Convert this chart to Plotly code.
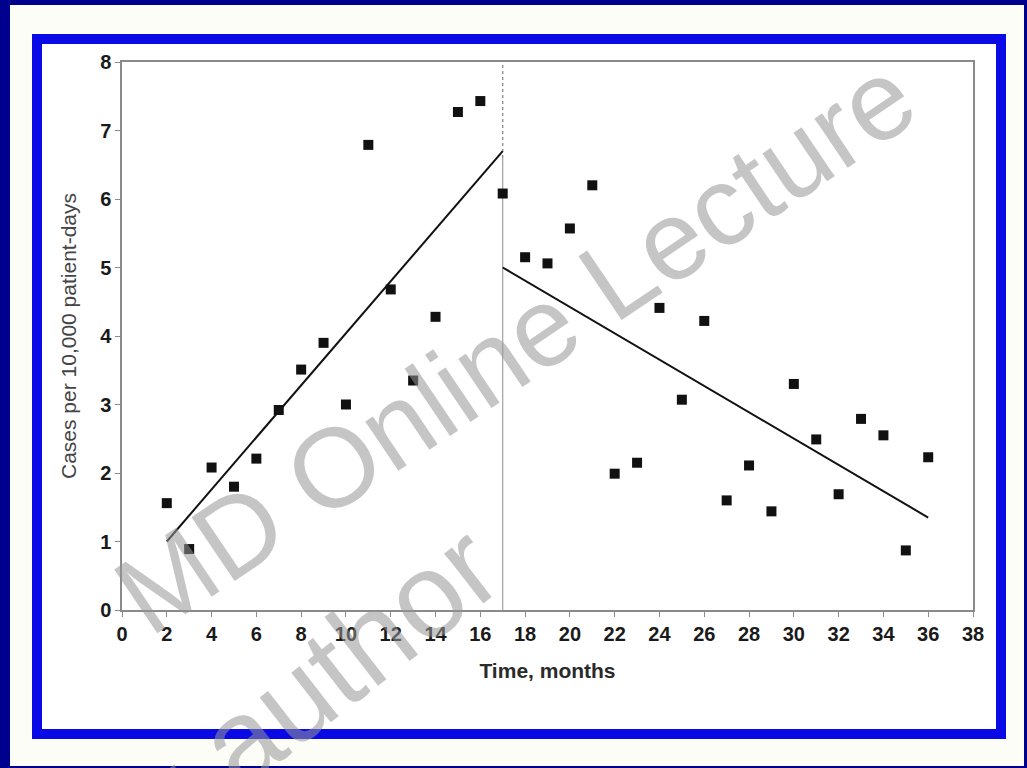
import plotly.graph_objects as go

# ---- data ----
months = list(range(2, 37))
cases = [1.56, 0.89, 2.08, 1.80, 2.21, 2.92, 3.51, 3.90, 3.00, 6.79,
         4.68, 3.35, 4.28, 7.27, 7.43, 6.08, 5.15, 5.06, 5.57, 6.20,
         1.99, 2.15, 4.41, 3.07, 4.22, 1.60, 2.11, 1.44, 3.30, 2.49,
         1.69, 2.79, 2.55, 0.87, 2.23]
pre_trend_x = [2, 17]
pre_trend_y = [1.0, 6.7]
post_trend_x = [17, 36]
post_trend_y = [5.0, 1.35]
intervention_month = 17
x_ticks = list(range(0, 39, 2))
y_ticks = list(range(0, 9))

W, H = 1027, 768
L, R, T, B = 122, 973, 62, 610  # plot area pixels
pw, ph = R - L, B - T


def px(x):
    return (x - L) / pw


def py(y):
    return (B - y) / ph


fig = go.Figure()

# intervention line (dotted upper part, solid lower part)
fig.add_trace(go.Scatter(x=[intervention_month, intervention_month], y=[0, 6.6],
                         mode="lines", line=dict(color="#a0a0a0", width=1.2),
                         hoverinfo="skip", showlegend=False))
fig.add_trace(go.Scatter(x=[intervention_month, intervention_month], y=[6.6, 8],
                         mode="lines", line=dict(color="#808080", width=1.2, dash="dot"),
                         hoverinfo="skip", showlegend=False))

fig.add_trace(go.Scatter(x=pre_trend_x, y=pre_trend_y, mode="lines",
                         line=dict(color="#111111", width=2), showlegend=False))
fig.add_trace(go.Scatter(x=post_trend_x, y=post_trend_y, mode="lines",
                         line=dict(color="#111111", width=2), showlegend=False))
fig.add_trace(go.Scatter(x=months, y=cases, mode="markers",
                         marker=dict(symbol="square", size=10, color="#111111"),
                         showlegend=False))

shapes = [
    # white inner sheet
    dict(type="rect", xref="paper", yref="paper", layer="below",
         x0=px(10), x1=px(1024), y0=py(766), y1=py(5),
         fillcolor="#fdfdf8", line=dict(width=0)),
    # blue border
    dict(type="rect", xref="paper", yref="paper", layer="below",
         x0=px(37), x1=px(1001), y0=py(734), y1=py(39),
         fillcolor="white", line=dict(color="#0a0ae6", width=10)),
]

font_fam = "Liberation Sans, Arial, sans-serif"
wm_color = "rgba(150,150,150,0.55)"

annotations = [
    dict(text="MD Online Lecture", xref="paper", yref="paper",
         x=px(515), y=py(345), xanchor="center", yanchor="middle",
         showarrow=False, textangle=-34,
         font=dict(family=font_fam, size=112, color=wm_color)),
    dict(text="by author", xref="paper", yref="paper",
         x=px(285), y=py(705), xanchor="center", yanchor="middle",
         showarrow=False, textangle=-38,
         font=dict(family=font_fam, size=120, color=wm_color)),
]

fig.update_layout(
    width=W, height=H,
    margin=dict(l=L, r=W - R, t=T, b=H - B, pad=0),
    paper_bgcolor="#00008f",
    plot_bgcolor="white",
    shapes=shapes,
    annotations=annotations,
    xaxis=dict(range=[0, 38], tickvals=x_ticks, ticktext=[str(v) for v in x_ticks],
               showgrid=False, zeroline=False, showline=True, mirror=True,
               linecolor="#8a8a8a", linewidth=1.5, ticks="outside", ticklen=5,
               tickcolor="#8a8a8a",
               tickfont=dict(family=font_fam, size=20, color="#1a1a1a", weight=700),
               title=dict(text="Time, months", standoff=20,
                          font=dict(family=font_fam, size=21, color="#2a2a2a", weight=700))),
    yaxis=dict(range=[0, 8], tickvals=y_ticks, ticktext=[str(v) for v in y_ticks],
               showgrid=False, zeroline=False, showline=True, mirror=True,
               linecolor="#8a8a8a", linewidth=1.5, ticks="outside", ticklen=5,
               tickcolor="#8a8a8a",
               tickfont=dict(family=font_fam, size=20, color="#1a1a1a", weight=700),
               title=dict(text="Cases per 10,000 patient-days", standoff=18,
                          font=dict(family=font_fam, size=21, color="#444444"))),
)

fig.write_html("out.html", config={"displayModeBar": False},
               post_script="document.body.style.margin='0';")
